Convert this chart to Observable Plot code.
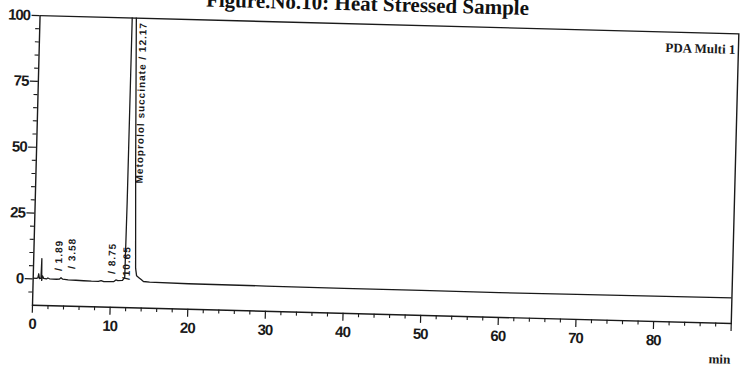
<!DOCTYPE html>
<html>
<head>
<meta charset="utf-8">
<script src="https://cdn.jsdelivr.net/npm/d3@7"></script>
<script src="https://cdn.jsdelivr.net/npm/@observablehq/plot@0.6"></script>
<style>
  html, body { margin: 0; padding: 0; background: #fff; }
  #page { position: relative; width: 746px; height: 369px; overflow: hidden; background: #fff; }
  #rot { position: absolute; left: 0; top: 0; width: 746px; height: 369px;
         transform-origin: 32px 304.7px; transform: rotate(1.5deg); }
  #title { position: absolute; left: 0; top: -15px; width: 719px; text-align: center;
           font: bold 21px/21px "Liberation Serif", "Times New Roman", serif; color: #111; white-space: nowrap; }
  #chart { position: absolute; left: 0; top: 0; }
  g[aria-description="peak-labels"] text { letter-spacing: 1px; }
  g[aria-label="x-axis tick label"] text, g[aria-label="y-axis tick label"] text { letter-spacing: -1px; }
</style>
</head>
<body>
<div id="page"><div id="rot">
  <div id="title">Figure.No.10: Heat Stressed Sample</div>
  <div id="chart"></div>
</div></div>
<script>
// Chromatogram trace (retention time in min, detector response)
const time   = [0.0, 0.4, 0.6, 0.7, 0.8, 1.0, 1.05, 1.1, 1.2, 1.35, 1.7, 1.89, 2.1, 3.0, 3.4, 3.58, 3.8, 4.5, 5.5, 6.5, 7.5, 8.4, 8.75, 9.1, 10.0, 10.4, 10.65, 10.9, 11.5, 11.78, 11.84, 11.87, 12.17, 12.4, 12.8, 13.15, 13.3, 13.6, 13.9, 14.2, 15.0, 20, 30, 40, 50, 60, 70, 80, 90];
const signal = [0.3, 0.2, 0.4, 2.0, 0.2, 0.4, 7.8, -0.5, 1.2, 0.3, 0.1, 0.5, 0.2, 0.1, 0.2, 0.7, 0.2, 0.0, -0.1, -0.2, -0.3, -0.3, 0.0, -0.3, -0.3, -0.2, 0.4, 0.2, 0.3, 1.5, 30, 100, 150, 100, 45, 5, 2.2, 1.5, 0.8, 0.1, -0.1, -0.3, -0.4, -0.5, -0.5, -0.6, -0.5, -0.4, -0.3];

// Peak annotations
const peakTimes      = [1.89, 3.58, 8.75, 10.65];
const peakLabels     = ["/ 1.89", "/ 3.58", "/ 8.75", "/10.65"];
const peakLabelStart = [3.3, 4.2, 2.7, 0.5];
const mainPeakTime   = [12.17];
const mainPeakLabel  = ["Metoprolol succinate / 12.17"];
const mainLabelStart = [37.3];

// Axis ticks
const xMajorTicks = [0, 10, 20, 30, 40, 50, 60, 70, 80, 90];
const xTickLabels = [0, 10, 20, 30, 40, 50, 60, 70, 80];
const xMinorTicks = [2,4,6,8,12,14,16,18,22,24,26,28,32,34,36,38,42,44,46,48,52,54,56,58,62,64,66,68,72,74,76,78,82,84,86,88];
const yMajorTicks = [0, 25, 50, 75, 100];
const yMinorTicks = [-5, 5, 10, 15, 20, 30, 35, 40, 45, 55, 60, 65, 70, 80, 85, 90, 95];
const channelLabel = ["PDA Multi 1"];
const xUnit = ["min"];

const rows = time.map((t, i) => ({t, v: signal[i]}));
const peaks = peakTimes.map((t, i) => ({t, label: peakLabels[i], y: peakLabelStart[i]}));
const mains = mainPeakTime.map((t, i) => ({t, label: mainPeakLabel[i], y: mainLabelStart[i]}));

const ink = "#1a1a1a";
const sans = '"Liberation Sans Narrow", "Liberation Sans", Arial, sans-serif';
const serif = '"Liberation Serif", "Times New Roman", serif';

const plot = Plot.plot({
  width: 746, height: 369,
  marginLeft: 32, marginRight: 15, marginTop: 15, marginBottom: 64.3,
  x: {domain: [0, 90]},
  y: {domain: [-10, 100]},
  style: {fontFamily: sans, fontSize: "15px", fontWeight: "bold", color: ink, background: "transparent", overflow: "visible"},
  marks: [
    Plot.frame({stroke: ink, strokeWidth: 1.4}),
    Plot.axisX({ticks: xMajorTicks, tickSize: 8, tickPadding: 5, strokeWidth: 1.2,
      tickFormat: d => xTickLabels.includes(d) ? String(d) : "", label: null}),
    Plot.axisX({ticks: xMinorTicks, tickSize: 4, tickFormat: () => "", label: null, strokeWidth: 1.1}),
    Plot.axisY({ticks: yMajorTicks, tickSize: 8, tickPadding: 2, strokeWidth: 1.2, label: null}),
    Plot.axisY({ticks: yMinorTicks, tickSize: 4, tickFormat: () => "", label: null, strokeWidth: 1.1}),
    Plot.line(rows, {x: "t", y: "v", clip: true, stroke: ink, strokeWidth: 1.3}),
    Plot.text(peaks, {x: "t", y: "y", text: "label", rotate: -90, textAnchor: "start", lineAnchor: "middle",
      dx: 10.5, fontSize: 10, fontWeight: "bold", fontFamily: '"Liberation Sans", Arial, sans-serif', fill: ink,
      ariaDescription: "peak-labels"}),
    Plot.text(mains, {x: "t", y: "y", text: "label", rotate: -90, textAnchor: "start", lineAnchor: "middle",
      dx: 9, fontSize: 10, fontWeight: "bold", fontFamily: '"Liberation Sans", Arial, sans-serif', fill: ink,
      ariaDescription: "peak-labels"}),
    Plot.text(channelLabel, {x: 90, y: 95.9, text: d => d, dx: -3, textAnchor: "end", lineAnchor: "top",
      fontFamily: serif, fontSize: 13, fontWeight: "bold", fill: ink}),
    Plot.text(xUnit, {x: 90, y: -10, text: d => d, dy: 31, textAnchor: "end", lineAnchor: "top",
      fontFamily: serif, fontSize: 13, fontWeight: "bold", fill: ink})
  ]
});
document.getElementById("chart").append(plot);
</script>
</body>
</html>
